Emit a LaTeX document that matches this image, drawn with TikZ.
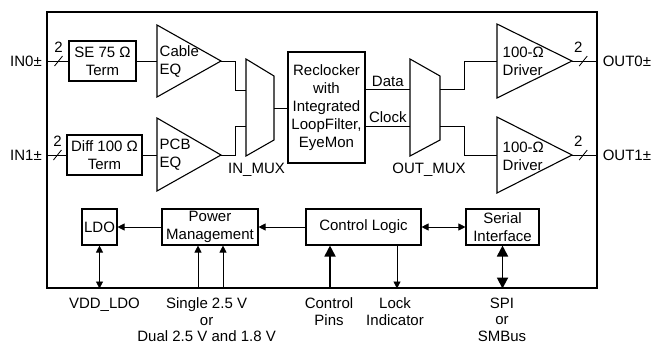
\documentclass[tikz,border=0pt]{standalone}
\usepackage{fontspec}
\setmainfont{Liberation Sans}
\usepackage{tikz}
\usetikzlibrary{positioning,arrows.meta}

\begin{document}
\begin{tikzpicture}[x=1pt, y=-1pt, node distance=4pt,
    every node/.style={font=\fontsize{15}{18}\selectfont, inner sep=0pt},
    blk/.style={draw, line width=1.1pt, align=center},
    wire/.style={line width=0.8pt},
    arr/.style={wire, -{Triangle[length=7pt,width=7pt]}},
    darr/.style={wire, {Triangle[length=7pt,width=7pt]}-{Triangle[length=7pt,width=7pt]}},
    bus/.style={line width=1.8pt, -{Triangle[length=11pt,width=11pt]}},
    dbus/.style={line width=1.8pt, {Triangle[length=11pt,width=11pt]}-{Triangle[length=11pt,width=11pt]}},
    pinlbl/.style={anchor=north, align=center, font=\fontsize{15}{16.5}\selectfont}]
  \useasboundingbox (0,0) rectangle (663,341);
  \node[draw, line width=1.1pt, minimum width=550pt, minimum height=276pt] (chip) at (322,150) {};

  \node[blk, minimum width=67pt, minimum height=40pt] (se) at (102.5,61) {SE 75 Ω\\Term};
  \node[blk, minimum width=75pt, minimum height=40pt] (diff) at (104.5,155) {Diff 100 Ω\\Term};
  \node[blk, minimum width=77pt, minimum height=111pt] (rc) at (326.5,107.5) {Reclocker\\with\\Integrated\\LoopFilter,\\EyeMon};
  \node[blk, minimum width=35pt, minimum height=36pt] (ldo) at (99.5,227) {LDO};
  \node[blk, minimum width=96pt, minimum height=36pt] (pm) at (210,227) {Power\\Management};
  \node[blk, minimum width=115pt, minimum height=36pt] (cl) at (363.5,227) {Control Logic};
  \node[blk, minimum width=73pt, minimum height=36pt] (si) at (502.5,227) {Serial\\Interface};

  \draw[blk] (157,25) -- (221,61) -- (157,97) -- cycle;
  \coordinate (ceq in) at (157,61);
  \coordinate (ceq out) at (221,61);
  \node[right=2.5pt of ceq in, align=left] {Cable\\EQ};
  \draw[blk] (157,118) -- (221,155) -- (157,191) -- cycle;
  \coordinate (peq in) at (157,155);
  \coordinate (peq out) at (221,155);
  \node[right=2.5pt of peq in, align=left] {PCB\\EQ};

  \draw[blk] (246,59) -- (274,76) -- (274,140) -- (246,156) -- cycle;
  \coordinate (imux a) at (246,90);
  \coordinate (imux b) at (246,126);
  \coordinate (imux out) at (274,108);
  \node (imux lbl) at (256.5,170) {IN\_MUX};
  \draw[blk] (410,59) -- (440,76) -- (440,140) -- (410,156) -- cycle;
  \coordinate (omux d) at (410,89);
  \coordinate (omux c) at (410,126);
  \coordinate (omux a) at (440,89);
  \coordinate (omux b) at (440,126);
  \node (omux lbl) at (429,170) {OUT\_MUX};

  \draw[blk] (497,24) -- (572,61) -- (497,98) -- cycle;
  \coordinate (drv0 in) at (497,61);
  \coordinate (drv0 out) at (572,61);
  \node[right=5.5pt of drv0 in, align=left] {100-Ω\\Driver};
  \draw[blk] (497,117) -- (572,155) -- (497,193) -- cycle;
  \coordinate (drv1 in) at (497,155);
  \coordinate (drv1 out) at (572,155);
  \node[right=5.5pt of drv1 in, yshift=-1pt, align=left] {100-Ω\\Driver};

  \draw[wire] (chip.west |- se) -- coordinate[pos=0.55] (in0 bus) (se);
  \draw[wire] (in0 bus) ++(-4,5) -- ++(8,-10);
  \node[above=8pt of in0 bus] {2};
  \node[anchor=east] at ([xshift=-4.5pt]chip.west |- se) {IN0±};
  \draw[wire] (chip.west |- diff) -- coordinate[pos=0.55] (in1 bus) (diff);
  \draw[wire] (in1 bus) ++(-4,5) -- ++(8,-10);
  \node[above=8pt of in1 bus] {2};
  \node[anchor=east] at ([xshift=-4.5pt]chip.west |- diff) {IN1±};

  \draw[wire] (se) -- (ceq in);
  \draw[wire] (diff) -- (peq in);
  \draw[wire] (ceq out) -- ++(14,0) |- (imux a);
  \draw[wire] (peq out) -- ++(14,0) |- (imux b);
  \draw[wire] (imux out) -- (imux out -| rc.west);
  \draw[wire] (rc.east |- omux d) -- node[above=2pt] {Data} (omux d);
  \draw[wire] (rc.east |- omux c) -- node[above=2.5pt] {Clock} (omux c);
  \draw[wire] (omux a) -- ++(24,0) |- (drv0 in);
  \draw[wire] (omux b) -- ++(24,0) |- (drv1 in);

  \draw[wire] (drv0 out) -- coordinate[pos=0.44] (out0 bus) (drv0 out -| chip.east);
  \draw[wire] (out0 bus) ++(-4,5) -- ++(8,-10);
  \node[above=8pt of out0 bus, xshift=-5pt] {2};
  \node[anchor=west] at ([xshift=5pt]drv0 out -| chip.east) {OUT0±};
  \draw[wire] (drv1 out) -- coordinate[pos=0.44] (out1 bus) (drv1 out -| chip.east);
  \draw[wire] (out1 bus) ++(-4,5) -- ++(8,-10);
  \node[above=8pt of out1 bus, xshift=-5pt] {2};
  \node[anchor=west] at ([xshift=5pt]drv1 out -| chip.east) {OUT1±};

  \draw[arr] (pm) -- (ldo);
  \draw[arr] (cl) -- (pm);
  \draw[darr] (cl) -- (si);
  \draw[darr] (ldo) -- (ldo |- chip.south);
  \draw[arr] ([xshift=-12pt]pm.south |- chip.south) -- ([xshift=-12pt]pm.south);
  \draw[arr] ([xshift=13pt]pm.south |- chip.south) -- ([xshift=13pt]pm.south);
  \draw[bus] ([xshift=-33.5pt]cl.south |- chip.south) -- ([xshift=-33.5pt]cl.south);
  \draw[arr] ([xshift=33.5pt]cl.south) -- ([xshift=33.5pt]cl.south |- chip.south);
  \draw[dbus] (si) -- (si |- chip.south);

  \node[pinlbl] (vdd lbl) at (104.5,297.5) {VDD\_LDO};
  \node[pinlbl] (sup lbl) at (206.6,297.5) {Single 2.5 V\\or\\Dual 2.5 V and 1.8 V};
  \node[pinlbl] (pins lbl) at (329,297.5) {Control\\Pins};
  \node[pinlbl] (lock lbl) at (395,297.5) {Lock\\Indicator};
  \node[pinlbl] (spi lbl) at (502,297.5) {SPI\\or\\SMBus};
\end{tikzpicture}
\end{document}
